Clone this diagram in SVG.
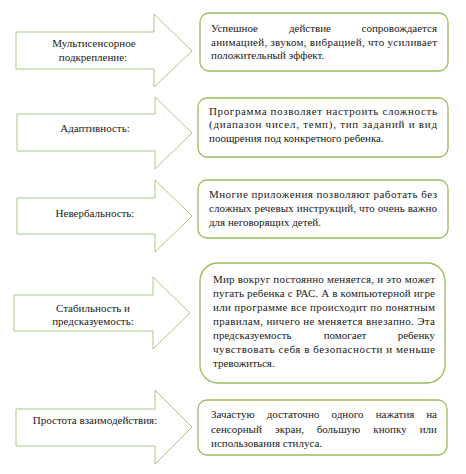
<svg xmlns="http://www.w3.org/2000/svg" width="466" height="474" viewBox="0 0 466 474">
<style>
.arrow{fill:#ffffff;stroke:#a9c783;stroke-width:1}
.box{fill:#ffffff;stroke:#9bbb59;stroke-width:1.3}
.t{font-family:"Liberation Serif","Times New Roman",serif;font-size:11px;fill:#1a1a1a}
.lbl{text-anchor:middle}
.m{text-anchor:middle}
.e{text-anchor:end}
</style>
<rect width="466" height="474" fill="#ffffff"/>
<g id="connectors">
<polygon id="arrow1" class="arrow" points="16,32 154,32 154,14 192,51 154,87 154,69 16,69"/>
<polygon id="arrow2" class="arrow" points="17,114 155,114 155,97 192,133 155,169 155,151 17,151"/>
<polygon id="arrow3" class="arrow" points="17,198 155,198 155,180 192,216 155,252 155,234 17,234"/>
<polygon id="arrow4" class="arrow" points="14,295 153,295 153,277 190,313 153,349 153,331 14,331"/>
<polygon id="arrow5" class="arrow" points="16,409 155,409 155,390 192,427 155,464 155,446 16,446"/>
</g>
<g class="t">
<g id="label1"><text class="lbl" x="94" y="47">Мультисенсорное</text><text class="lbl" x="93" y="61">подкрепление:</text></g>
<g id="label2"><text class="lbl" x="95" y="132">Адаптивность:</text></g>
<g id="label3"><text class="lbl" x="95" y="217">Невербальность:</text></g>
<g id="label4"><text class="lbl" x="93" y="312">Стабильность и</text><text class="lbl" x="93" y="325">предсказуемость:</text></g>
<g id="label5"><text class="lbl" x="95" y="424">Простота взаимодействия:</text></g>
<g id="box1">
<rect class="box" x="200" y="13" width="248" height="58" rx="9"/>
<text x="211" y="32">Успешное</text><text class="m" x="310" y="32">действие</text><text class="e" x="437" y="32">сопровождается</text>
<text x="211" y="46" textLength="226" lengthAdjust="spacing">анимацией, звуком, вибрацией, что усиливает</text>
<text x="211" y="59">положительный эффект.</text>
</g>
<g id="box2">
<rect class="box" x="198" y="98" width="250" height="59" rx="9"/>
<text x="209" y="115" textLength="228" lengthAdjust="spacing">Программа позволяет настроить сложность</text>
<text x="209" y="128" textLength="228" lengthAdjust="spacing">(диапазон чисел, темп), тип заданий и вид</text>
<text x="209" y="142">поощрения под конкретного ребенка.</text>
</g>
<g id="box3">
<rect class="box" x="198" y="180" width="250" height="58" rx="9"/>
<text x="209" y="198" textLength="228" lengthAdjust="spacing">Многие приложения позволяют работать без</text>
<text x="209" y="212" textLength="228" lengthAdjust="spacing">сложных речевых инструкций, что очень важно</text>
<text x="209" y="226">для неговорящих детей.</text>
</g>
<g id="box4">
<rect class="box" x="200" y="263" width="245" height="120" rx="18"/>
<text x="213" y="283" textLength="222" lengthAdjust="spacing">Мир вокруг постоянно меняется, и это может</text>
<text x="213" y="297" textLength="222" lengthAdjust="spacing">пугать ребенка с РАС. А в компьютерной игре</text>
<text x="213" y="311" textLength="222" lengthAdjust="spacing">или программе все происходит по понятным</text>
<text x="213" y="325" textLength="222" lengthAdjust="spacing">правилам, ничего не меняется внезапно. Эта</text>
<text x="213" y="339">предсказуемость</text><text class="m" x="345" y="339">помогает</text><text class="e" x="435" y="339">ребенку</text>
<text x="213" y="353" textLength="222" lengthAdjust="spacing">чувствовать себя в безопасности и меньше</text>
<text x="213" y="367">тревожиться.</text>
</g>
<g id="box5">
<rect class="box" x="198" y="400" width="249" height="55" rx="9"/>
<text x="211" y="418">Зачастую</text><text class="m" x="293" y="418">достаточно</text><text class="m" x="347.5" y="418">одного</text><text class="m" x="395" y="418">нажатия</text><text class="e" x="437" y="418">на</text>
<text x="211" y="433">сенсорный</text><text class="m" x="289.5" y="433">экран,</text><text class="m" x="338.5" y="433">большую</text><text class="m" x="390" y="433">кнопку</text><text class="e" x="437" y="433">или</text>
<text x="211" y="447">использования стилуса.</text>
</g>
</g>
</svg>
